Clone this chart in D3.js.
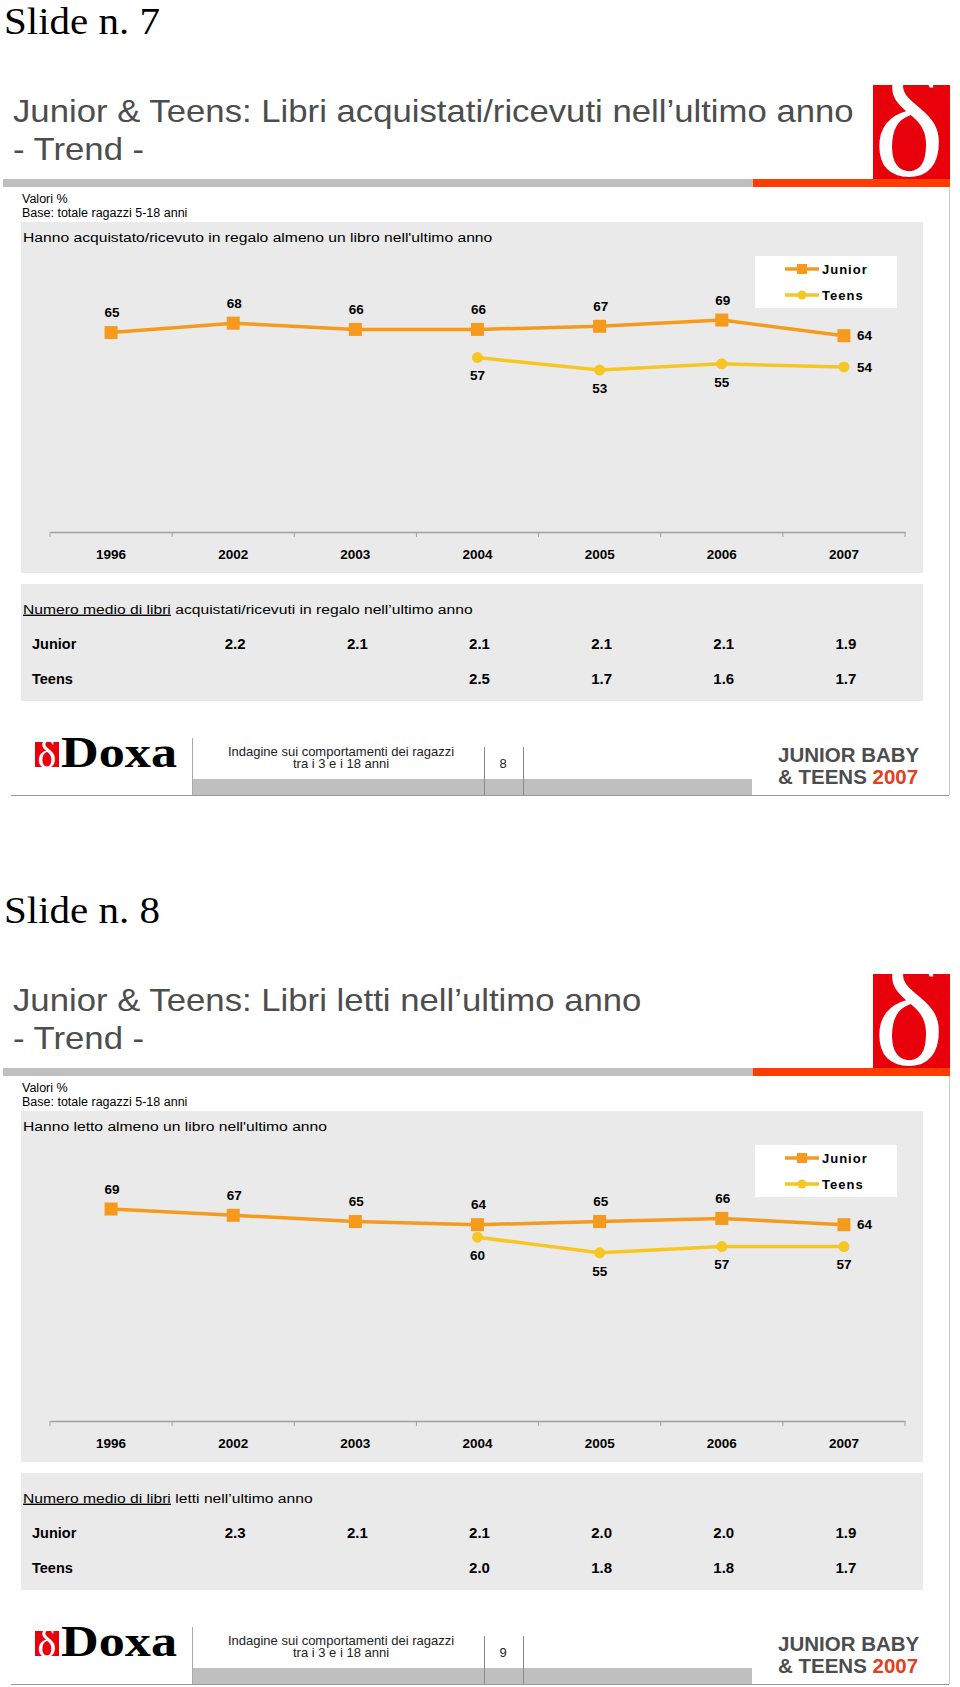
<!DOCTYPE html>
<html>
<head>
<meta charset="utf-8">
<script src="https://cdn.jsdelivr.net/npm/d3@7"></script>
<style>
  html, body { margin: 0; padding: 0; background: #fff; }
  svg { display: block; }
</style>
</head>
<body>
<svg id="chart" width="960" height="1687"></svg>
<script>
// ---------- DATA ----------
const years = ["1996", "2002", "2003", "2004", "2005", "2006", "2007"];
const seriesNames = ["Junior", "Teens"];

// Slide 7: books bought / received (%)
const juniorBought = [65, 68, 66, 66, 67, 69, 64];
const teensBought  = [null, null, null, 57, 53, 55, 54];
const juniorBoughtAvg = [null, 2.2, 2.1, 2.1, 2.1, 2.1, 1.9];
const teensBoughtAvg  = [null, null, null, 2.5, 1.7, 1.6, 1.7];

// Slide 8: books read (%)
const juniorRead = [69, 67, 65, 64, 65, 66, 64];
const teensRead  = [null, null, null, 60, 55, 57, 57];
const juniorReadAvg = [null, 2.3, 2.1, 2.1, 2.0, 2.0, 1.9];
const teensReadAvg  = [null, null, null, 2.0, 1.8, 1.8, 1.7];

const slides = [
  {
    slideLabel: "Slide n. 7",
    title1: "Junior & Teens: Libri acquistati/ricevuti nell\u2019ultimo anno",
    subtitle: "Hanno acquistato/ricevuto in regalo almeno un libro nell'ultimo anno",
    tableHead: " acquistati/ricevuti in regalo nell\u2019ultimo anno",
    junior: juniorBought, teens: teensBought,
    juniorAvg: juniorBoughtAvg, teensAvg: teensBoughtAvg,
    page: "8", lastTeensLabel: "right", offset: 0
  },
  {
    slideLabel: "Slide n. 8",
    title1: "Junior & Teens: Libri letti nell\u2019ultimo anno",
    subtitle: "Hanno letto almeno un libro nell'ultimo anno",
    tableHead: " letti nell\u2019ultimo anno",
    junior: juniorRead, teens: teensRead,
    juniorAvg: juniorReadAvg, teensAvg: teensReadAvg,
    page: "9", lastTeensLabel: "below", offset: 889
  }
];

// ---------- STYLE ----------
const SANS = "'Liberation Sans', Arial, sans-serif";
const SERIF = "'Liberation Serif', 'Times New Roman', serif";
const C_JUNIOR = "#F59A1C";
const C_TEENS = "#F6C623";
const C_PANEL = "#EAEAEA";
const C_TITLE = "#4D4D4D";
const C_RED = "#E8000B";
const C_ORANGE = "#FF3D00";

const svg = d3.select("#chart");
svg.append("rect").attr("width", 960).attr("height", 1687).attr("fill", "#fff");

const defs = svg.append("defs");

const x = d3.scaleBand().domain(years).range([50, 905]).padding(0);
const y = d3.scaleLinear().domain([0, 100]).range([536, 223]);

slides.forEach((s, si) => {
  const g = svg.append("g").attr("transform", `translate(0,${s.offset})`);

  // Slide label
  g.append("text").attr("x", 4).attr("y", 34)
    .attr("font-family", SERIF).attr("font-size", 37)
    .attr("textLength", 156).attr("lengthAdjust", "spacingAndGlyphs")
    .attr("fill", "#000").text(s.slideLabel);

  // Title (slightly widened like the reference)
  const tg = g.append("g").attr("transform", "translate(13,0) scale(1.12,1)");
  tg.append("text").attr("x", 0).attr("y", 122)
    .attr("font-family", SANS).attr("font-size", 31).attr("fill", C_TITLE)
    .text(s.title1);
  tg.append("text").attr("x", 0).attr("y", 160)
    .attr("font-family", SANS).attr("font-size", 31).attr("fill", C_TITLE)
    .text("- Trend -");

  // Logo (top right)
  const clipId = "logoclip" + si;
  defs.append("clipPath").attr("id", clipId)
    .append("rect").attr("x", 873).attr("y", 85 + s.offset).attr("width", 77).attr("height", 94);
  g.append("rect").attr("x", 873).attr("y", 85).attr("width", 77).attr("height", 94).attr("fill", C_RED);
  const lg = g.append("g").attr("clip-path", `url(#${clipId})`).attr("transform", `translate(0,${-s.offset})`);
  lg.append("text").attr("x", 909).attr("y", 176 + s.offset)
    .attr("text-anchor", "middle")
    .attr("font-family", SERIF).attr("font-size", 150)
    .attr("fill", "#fff").text("\u03B4");

  // Header bar
  g.append("rect").attr("x", 3).attr("y", 179).attr("width", 750).attr("height", 8).attr("fill", "#BFBFBF");
  g.append("rect").attr("x", 753).attr("y", 179).attr("width", 197).attr("height", 8).attr("fill", C_ORANGE);

  // Right border line
  g.append("line").attr("x1", 949.5).attr("x2", 949.5).attr("y1", 187).attr("y2", 795)
    .attr("stroke", "#C8C8C8").attr("stroke-width", 1);

  // Notes
  g.append("text").attr("x", 22).attr("y", 203).attr("font-family", SANS).attr("font-size", 12.5)
    .attr("fill", "#000").text("Valori %");
  g.append("text").attr("x", 22).attr("y", 217).attr("font-family", SANS).attr("font-size", 12.5)
    .attr("fill", "#000").text("Base: totale ragazzi 5-18 anni");

  // Chart panel
  g.append("rect").attr("x", 21).attr("y", 222).attr("width", 902).attr("height", 351).attr("fill", C_PANEL);
  g.append("g").attr("transform", "translate(23,0) scale(1.16,1)")
    .append("text").attr("x", 0).attr("y", 242).attr("font-family", SANS).attr("font-size", 13.5)
    .attr("fill", "#000").text(s.subtitle);

  // X axis
  const axisY = 532;
  const axisG = g.append("g").attr("transform", `translate(0,${axisY})`)
    .call(d3.axisBottom(x).tickSize(0).tickPadding(17));
  axisG.select(".domain").attr("stroke", "#A0A0A0").attr("stroke-width", 1.5);
  axisG.selectAll(".tick text")
    .attr("font-family", SANS).attr("font-size", 13.5).attr("font-weight", "bold").attr("fill", "#000");
  // boundary tick marks
  const bounds = d3.range(years.length + 1).map(i => x.range()[0] + i * x.step());
  axisG.selectAll(".bound").data(bounds).enter().append("line")
    .attr("class", "bound")
    .attr("x1", d => d).attr("x2", d => d).attr("y1", 0).attr("y2", 5)
    .attr("stroke", "#A0A0A0").attr("stroke-width", 1);

  const cx = d => x(d) + x.bandwidth() / 2;

  const series = [
    { name: "Junior", values: s.junior, color: C_JUNIOR, shape: "square", labelPos: "above" },
    { name: "Teens", values: s.teens, color: C_TEENS, shape: "circle", labelPos: "below" }
  ];

  const line = d3.line()
    .defined(d => d.v != null)
    .x(d => cx(d.year)).y(d => y(d.v));

  series.forEach(ser => {
    const pts = years.map((yr, i) => ({ year: yr, v: ser.values[i], i }));
    g.append("path").datum(pts)
      .attr("d", line).attr("fill", "none")
      .attr("stroke", ser.color).attr("stroke-width", 3.5).attr("stroke-linejoin", "round");
    const valid = pts.filter(d => d.v != null);
    if (ser.shape === "square") {
      g.selectAll(null).data(valid).enter().append("rect")
        .attr("x", d => cx(d.year) - 6.5).attr("y", d => y(d.v) - 6.5)
        .attr("width", 13).attr("height", 13).attr("fill", ser.color);
    } else {
      g.selectAll(null).data(valid).enter().append("circle")
        .attr("cx", d => cx(d.year)).attr("cy", d => y(d.v)).attr("r", 5.5).attr("fill", ser.color);
    }
    // labels
    const last = valid.length - 1;
    g.selectAll(null).data(valid).enter().append("text")
      .attr("font-family", SANS).attr("font-size", 13.5).attr("font-weight", "bold").attr("fill", "#000")
      .each(function (d, k) {
        let pos = ser.labelPos;
        if (k === last) pos = ser.name === "Junior" ? "right" : s.lastTeensLabel;
        const t = d3.select(this);
        if (pos === "right") {
          t.attr("x", cx(d.year) + 13).attr("y", y(d.v)).attr("dy", "0.35em").attr("text-anchor", "start");
        } else if (pos === "above") {
          t.attr("x", cx(d.year) + 1).attr("y", y(d.v) - 20).attr("dy", "0.35em").attr("text-anchor", "middle");
        } else {
          t.attr("x", cx(d.year)).attr("y", y(d.v) + 18).attr("dy", "0.35em").attr("text-anchor", "middle");
        }
      })
      .text(d => d.v);
  });

  // Legend
  const lgd = g.append("g");
  lgd.append("rect").attr("x", 755).attr("y", 256).attr("width", 142).attr("height", 52).attr("fill", "#fff");
  series.forEach((ser, i) => {
    const ly = 269 + i * 26;
    lgd.append("line").attr("x1", 785).attr("x2", 819).attr("y1", ly).attr("y2", ly)
      .attr("stroke", ser.color).attr("stroke-width", 3.5);
    if (ser.shape === "square") {
      lgd.append("rect").attr("x", 802 - 5).attr("y", ly - 5).attr("width", 10).attr("height", 10).attr("fill", ser.color);
    } else {
      lgd.append("circle").attr("cx", 802).attr("cy", ly).attr("r", 4.5).attr("fill", ser.color);
    }
    lgd.append("text").attr("x", 822).attr("y", ly).attr("dy", "0.35em")
      .attr("font-family", SANS).attr("font-size", 13).attr("font-weight", "bold")
      .attr("letter-spacing", 1).attr("fill", "#000").text(seriesNames[i]);
  });

  // Table panel
  g.append("rect").attr("x", 21).attr("y", 584).attr("width", 902).attr("height", 117).attr("fill", C_PANEL);
  const th = g.append("g").attr("transform", "translate(23,0) scale(1.16,1)")
    .append("text").attr("x", 0).attr("y", 609).attr("dy", "0.35em")
    .attr("font-family", SANS).attr("font-size", 13.5).attr("fill", "#000");
  th.append("tspan").attr("text-decoration", "underline").text("Numero medio di libri");
  th.append("tspan").text(s.tableHead);

  const rows = [
    { name: "Junior", values: s.juniorAvg, y: 644 },
    { name: "Teens", values: s.teensAvg, y: 679 }
  ];
  rows.forEach(r => {
    g.append("text").attr("x", 32).attr("y", r.y).attr("dy", "0.35em")
      .attr("font-family", SANS).attr("font-size", 14.5).attr("font-weight", "bold").attr("fill", "#000")
      .text(r.name);
    g.selectAll(null).data(years.map((yr, i) => ({ year: yr, v: r.values[i] })).filter(d => d.v != null))
      .enter().append("text")
      .attr("x", d => cx(d.year) + 2).attr("y", r.y).attr("dy", "0.35em").attr("text-anchor", "middle")
      .attr("font-family", SANS).attr("font-size", 15).attr("font-weight", "bold").attr("fill", "#000")
      .text(d => d.v.toFixed(1));
  });

  // Footer
  const fg = g.append("g");
  fg.append("rect").attr("x", 192).attr("y", 779).attr("width", 560).attr("height", 16).attr("fill", "#BFBFBF");
  fg.append("line").attr("x1", 192.5).attr("x2", 192.5).attr("y1", 738).attr("y2", 795).attr("stroke", "#AAAAAA");
  fg.append("line").attr("x1", 484.5).attr("x2", 484.5).attr("y1", 747).attr("y2", 795).attr("stroke", "#888");
  fg.append("line").attr("x1", 523.5).attr("x2", 523.5).attr("y1", 747).attr("y2", 795).attr("stroke", "#888");
  fg.append("line").attr("x1", 11).attr("x2", 949).attr("y1", 795.5).attr("y2", 795.5).attr("stroke", "#999");

  // Doxa logo
  const clipId2 = "doxaclip" + si;
  defs.append("clipPath").attr("id", clipId2)
    .append("rect").attr("x", 35).attr("y", 742 + s.offset).attr("width", 24).attr("height", 25);
  fg.append("rect").attr("x", 35).attr("y", 742).attr("width", 24).attr("height", 25).attr("fill", C_RED);
  fg.append("g").attr("clip-path", `url(#${clipId2})`).attr("transform", `translate(0,${-s.offset})`)
    .append("text").attr("x", 47).attr("y", 768 + s.offset).attr("text-anchor", "middle")
    .attr("font-family", SERIF).attr("font-size", 40).attr("fill", "#fff").text("\u03B4");
  fg.append("text").attr("x", 61).attr("y", 767)
    .attr("font-family", SERIF).attr("font-size", 44).attr("font-weight", "bold")
    .attr("textLength", 116).attr("lengthAdjust", "spacingAndGlyphs")
    .attr("fill", "#000").text("Doxa");

  fg.append("text").attr("x", 341).attr("y", 756).attr("text-anchor", "middle")
    .attr("font-family", SANS).attr("font-size", 13).attr("fill", "#222")
    .text("Indagine sui comportamenti dei ragazzi");
  fg.append("text").attr("x", 341).attr("y", 768).attr("text-anchor", "middle")
    .attr("font-family", SANS).attr("font-size", 13).attr("fill", "#222")
    .text("tra i 3 e i 18 anni");
  fg.append("text").attr("x", 503).attr("y", 763).attr("dy", "0.35em").attr("text-anchor", "middle")
    .attr("font-family", SANS).attr("font-size", 13).attr("fill", "#222").text(s.page);

  fg.append("text").attr("x", 778).attr("y", 762)
    .attr("font-family", SANS).attr("font-size", 20.5).attr("font-weight", "bold").attr("fill", C_TITLE)
    .text("JUNIOR BABY");
  const t2 = fg.append("text").attr("x", 778).attr("y", 784)
    .attr("font-family", SANS).attr("font-size", 20.5).attr("font-weight", "bold").attr("fill", C_TITLE);
  t2.append("tspan").text("& TEENS ");
  t2.append("tspan").attr("fill", "#E2401C").text("2007");
});
</script>
</body>
</html>
